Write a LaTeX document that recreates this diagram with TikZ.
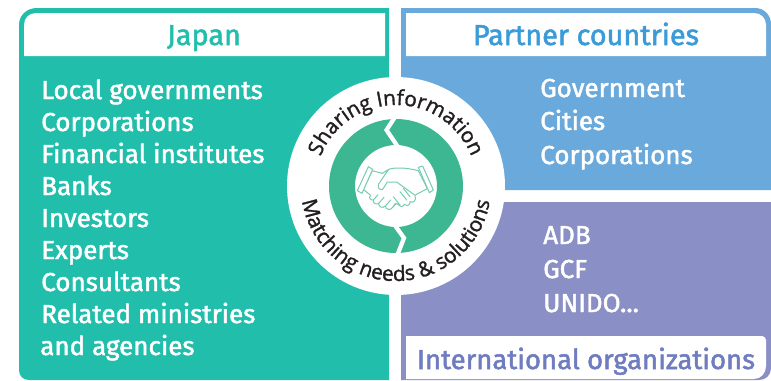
\documentclass[tikz,border=0pt]{standalone}
\usepackage{fontspec}
\setmainfont{Fira Sans}[FakeBold=1.8]
\newfontfamily\ringfont{Open Sans}[FakeBold=1.5]
\usetikzlibrary{decorations.text}
\definecolor{teal}{HTML}{22BEAC}
\definecolor{sky}{HTML}{69A9DC}
\definecolor{skytext}{HTML}{3A9BD8}
\definecolor{violet}{HTML}{8A8FC6}
\definecolor{violettext}{HTML}{6F7CBF}
\definecolor{ringgreen}{HTML}{3DB792}
\definecolor{inkring}{HTML}{231F20}
\tikzset{
  x=0.75pt,y=-0.75pt,
  listtext/.style={text=white,font=\fontsize{19.5}{19.5}\selectfont,anchor=base west,inner sep=0pt},
  head/.style={font=\fontsize{21.6}{21.6}\selectfont,anchor=base,inner sep=0pt},
  gap/.style={draw=white,line width=3.2pt,line join=miter},
  shake/.style={draw=ringgreen!70,line width=0.75pt,fill=white,line join=round,line cap=round},
}
\begin{document}
\begin{tikzpicture}
\useasboundingbox (0,0) rectangle (771,380);
\fill[white] (0,0) rectangle (771,380);
% panels
\fill[teal] (19,370) -- (19,25) .. controls (19,15) and (27,8) .. (37,8) -- (389,8) -- (389,380) -- (29,380) .. controls (23,380) and (19,376) .. (19,370) -- cycle;
\fill[white] (24,56) -- (24,25) .. controls (24,18) and (29,13) .. (36,13) -- (385,13) -- (385,56) -- cycle;
\fill[sky] (401,190) -- (401,8) -- (755,8) .. controls (764,8) and (771,15) .. (771,24) -- (771,190) -- cycle;
\fill[white] (406,56) -- (406,13) -- (754,13) .. controls (761,13) and (766,18) .. (766,25) -- (766,56) -- cycle;
\fill[violet] (401,380) -- (401,202) -- (771,202) -- (771,368) .. controls (771,375) and (766,380) .. (759,380) -- cycle;
\fill[white] (406,379) -- (406,336) -- (762,336) .. controls (764,336) and (766,338) .. (766,340) -- (766,366) .. controls (766,373) and (761,379) .. (754,379) -- cycle;
% headings
\node[head,text=teal] (jp) at (204,45) {Japan};
\node[head,text=skytext] (pc) at (586,45) {Partner countries};
\node[head,text=violettext,font=\fontsize{20.6}{20.6}\selectfont] (io) at (586,369) {International organizations};
% lists
\node[listtext] (a1) at (41,99) {Local governments};
\node[listtext] (a2) at (41,131) {Corporations};
\node[listtext] (a3) at (41,163) {Financial institutes};
\node[listtext] (a4) at (41,195) {Banks};
\node[listtext] (a5) at (41,227) {Investors};
\node[listtext] (a6) at (41,259) {Experts};
\node[listtext] (a7) at (41,291) {Consultants};
\node[listtext] (a8) at (41,323) {Related ministries};
\node[listtext] (a9) at (40,355) {and agencies};
\node[listtext] (b1) at (540,97) {Government};
\node[listtext] (b2) at (540,130) {Cities};
\node[listtext] (b3) at (540,164) {Corporations};
\node[listtext] (c1) at (543,244) {ADB};
\node[listtext] (c2) at (543,278) {GCF};
\node[listtext] (c3) at (543,312) {UNIDO...};
% circle
\coordinate (o) at (396,186);
\fill[white] (o) circle[radius=109];
\fill[ringgreen,even odd rule] (o) circle[radius=67] (o) circle[radius=41];
\draw[gap] (397,114) -- (386.5,130) -- (398,147);
\draw[gap] (394,224) -- (404,238) -- (397,256);
% curved texts
\begin{scope}[shift={(o)},x=0.75pt,y=0.75pt]
\path[decorate,decoration={text along path,text align=center,
  text={|\ringfont\fontsize{15.6}{15.6}\selectfont\color{inkring}|Sharing Information}}]
  (-81,0) arc[start angle=180,end angle=0,radius=81];
\path[decorate,decoration={text along path,text align=center,
  text={|\ringfont\fontsize{15.6}{15.6}\selectfont\color{inkring}|Matching needs {\&} solutions}}]
  (-95,0) arc[start angle=180,end angle=360,radius=95];
\end{scope}
% handshake
\begin{scope}[shift={(350,150)},x=0.25pt,y=-0.25pt]
\draw[shake] (67,62) -- (97,70) -- (116,58) .. controls (135,52) and (165,52) .. (205,62) -- (232,116) -- (205,130) -- (195,136) -- (140,96) -- (112,96) -- (98,118) .. controls (88,122) and (82,112) .. (86,102) -- (116,58);
\draw[shake] (67,62) -- (40,118) -- (62,136);
\draw[shake] (62,136) .. controls (55,142) and (60,152) .. (70,150) .. controls (68,160) and (78,165) .. (86,160) .. controls (86,172) and (98,176) .. (106,168) .. controls (108,180) and (122,182) .. (128,172) -- (140,160) .. controls (150,172) and (160,172) .. (163,163) .. controls (172,170) and (182,165) .. (180,155) .. controls (190,160) and (200,152) .. (195,136);
\draw[shake] (70,150) -- (84,134) (86,160) -- (102,142) (106,168) -- (122,150) (128,172) -- (136,160);
\draw[shake] (150,125) -- (170,150) (130,140) -- (150,165) (160,115) -- (180,140);
\draw[shake] (55,50) -- (68,58) -- (36,130) -- (22,122) -- cycle;
\draw[shake] (205,52) -- (218,48) -- (250,120) -- (238,128) -- cycle;
\end{scope}
\end{tikzpicture}
\end{document}
